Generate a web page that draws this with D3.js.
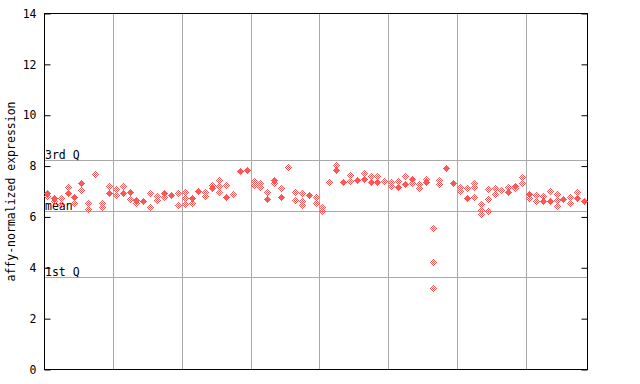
<!DOCTYPE html>
<html>
<head>
<meta charset="utf-8">
<script src="https://cdn.jsdelivr.net/npm/d3@7"></script>
<style>
html,body{margin:0;padding:0;background:#fff;}
svg{display:block;}
text{font-family:"DejaVu Sans Mono","Liberation Mono",monospace;font-size:11.5px;fill:#000;}
</style>
</head>
<body>
<svg id="chart" width="640" height="384"></svg>
<script>
const samples = ["s01","s02","s03","s04","s05","s06","s07","s08","s09","s10",
"s11","s12","s13","s14","s15","s16","s17","s18","s19","s20",
"s21","s22","s23","s24","s25","s26","s27","s28","s29","s30",
"s31","s32","s33","s34","s35","s36","s37","s38","s39","s40",
"s41","s42","s43","s44","s45","s46","s47","s48","s49","s50",
"s51","s52","s53","s54","s55","s56","s57","s58","s59","s60",
"s61","s62","s63","s64","s65","s66","s67","s68","s69","s70",
"s71","s72","s73","s74","s75","s76","s77","s78","s79"];

const solidValues = [6.95,6.74,null,6.95,6.77,7.32,null,null,null,6.95,
null,6.95,6.99,6.67,6.63,null,null,6.95,6.85,null,
null,6.76,7.03,null,7.13,null,6.80,null,7.79,7.83,
null,null,6.70,7.45,6.80,null,null,null,6.85,null,
null,null,7.83,7.39,null,7.46,7.49,7.39,7.39,null,
null,7.17,7.31,7.50,null,7.39,null,null,7.92,7.34,
null,6.76,null,null,null,null,null,6.99,7.23,null,
6.89,null,6.64,6.63,null,6.70,null,6.73,6.63];

const hatchValues = [[6.77],[6.59],[6.69,6.48],[7.17],[6.54],[7.05],[6.51,6.27],[7.66],[6.54,6.38],[7.17],
[7.06,6.85],[7.22],[6.69],[6.54],[],[6.93,6.38],[6.80,6.63],[6.73],[],[6.93,6.46],
[6.99,6.73,6.50],[6.54],[],[6.97,6.77],[7.24],[7.40,7.19,6.97],[7.22],[6.86],[],[],
[7.42,7.22],[7.32,7.15],[6.99],[7.35],[7.13],[7.95],[6.93,6.63],[6.89,6.61,6.44],[],[6.77,6.56],
[6.40,6.22],[7.36],[8.03],[],[7.63,7.42],[],[7.67],[7.61],[7.61],[7.40],
[7.32,7.22],[7.42],[7.56],[7.28],[7.27,7.11],[7.48],[5.51,4.22,3.18],[7.42,7.25],[],[],
[7.19,7.03],[7.09],[7.28,7.13,6.73],[6.46,6.23,6.08],[7.09,6.69,6.23],[7.15,6.89],[7.06],[7.13],[7.10],[7.52,7.35],
[6.76],[6.84,6.61],[6.77],[6.97],[6.86,6.61,6.44],[],[6.73,6.54],[6.97],[]];

const yTicks = [0,2,4,6,8,10,12,14];
const refLines = [{label:"3rd Q", value:8.23},{label:"mean", value:6.23},{label:"1st Q", value:3.64}];
const groupSize = 10;

const svg = d3.select("#chart");
const L = 44, R = 588, T = 13.5, B = 369.5;
const x = d3.scaleBand().domain(samples).range([L, R]).padding(0);
const y = d3.scaleLinear().domain([0, 14]).range([B, T]);
const red = "#ff5555";

const defs = svg.append("defs");
const pat = defs.append("pattern").attr("id","chk").attr("patternUnits","userSpaceOnUse")
  .attr("x",0).attr("y",0).attr("width",2).attr("height",2);
pat.append("rect").attr("x",0).attr("y",0).attr("width",1).attr("height",1).attr("fill",red);
pat.append("rect").attr("x",1).attr("y",1).attr("width",1).attr("height",1).attr("fill",red);

// grid lines between groups
const gridX = samples.filter((d,i) => i > 0 && i % groupSize === 0);
svg.append("g").selectAll("line").data(gridX).join("line")
  .attr("x1", d => Math.round(x(d)) + 0.5).attr("x2", d => Math.round(x(d)) + 0.5)
  .attr("y1", T).attr("y2", B)
  .attr("stroke", "#aaaaaa").attr("stroke-width", 1);

// reference lines
const ref = svg.append("g");
ref.selectAll("line").data(refLines).join("line")
  .attr("x1", L).attr("x2", R)
  .attr("y1", d => Math.round(y(d.value)) + 0.5).attr("y2", d => Math.round(y(d.value)) + 0.5)
  .attr("stroke", "#aaaaaa").attr("stroke-width", 1);
ref.selectAll("text").data(refLines).join("text")
  .attr("x", L + 1).attr("y", d => Math.round(y(d.value)) - 1)
  .text(d => d.label);

// axes
const yAxisL = d3.axisLeft(y).tickValues(yTicks).tickSizeInner(-6).tickSizeOuter(0).tickPadding(8);
const gL = svg.append("g").attr("transform", `translate(${L + 0.5},0)`).call(yAxisL);
gL.select(".domain").remove();
gL.selectAll("text").style("font-family", '"DejaVu Sans Mono",monospace').style("font-size","11.5px");
const yAxisR = d3.axisRight(y).tickValues(yTicks).tickSizeInner(-6).tickSizeOuter(0).tickFormat("");
const gR = svg.append("g").attr("transform", `translate(${R - 0.5},0)`).call(yAxisR);
gR.select(".domain").remove();
svg.selectAll(".tick line").attr("stroke", "#000");

svg.append("rect").attr("x", L + 0.5).attr("y", T).attr("width", R - L - 1).attr("height", B - T)
  .attr("fill", "none").attr("stroke", "#000").attr("stroke-width", 1);

svg.append("text").attr("transform", `translate(15,${(T + B) / 2}) rotate(-90)`)
  .attr("text-anchor", "middle").text("affy-normalized expression");

// points
function diamond(cx, cy, rows) {
  const top = cy - Math.floor(rows.length / 2);
  let p = "";
  rows.forEach((w, r) => {
    const left = cx - Math.floor(w / 2);
    p += `M${left},${top + r}h${w}v1h${-w}Z`;
  });
  return p;
}
const cxOf = d => Math.floor(x(d) + x.bandwidth() / 2);
const hatchPts = [];
samples.forEach((s, i) => hatchValues[i].forEach(v => hatchPts.push({s, v})));
const solidPts = samples.map((s, i) => ({s, v: solidValues[i]})).filter(d => d.v !== null);

const rowsH = [1,3,5,7,7,5,3,1];
const rowsS = [1,3,5,7,5,3,1];
svg.append("g").selectAll("path").data(hatchPts).join("path")
  .attr("d", d => diamond(cxOf(d.s), Math.round(y(d.v)), rowsH))
  .attr("fill", "url(#chk)").attr("shape-rendering", "crispEdges");
svg.append("g").selectAll("path").data(solidPts).join("path")
  .attr("d", d => diamond(cxOf(d.s), Math.round(y(d.v)), rowsS))
  .attr("fill", red).attr("shape-rendering", "crispEdges");
</script>
</body>
</html>
